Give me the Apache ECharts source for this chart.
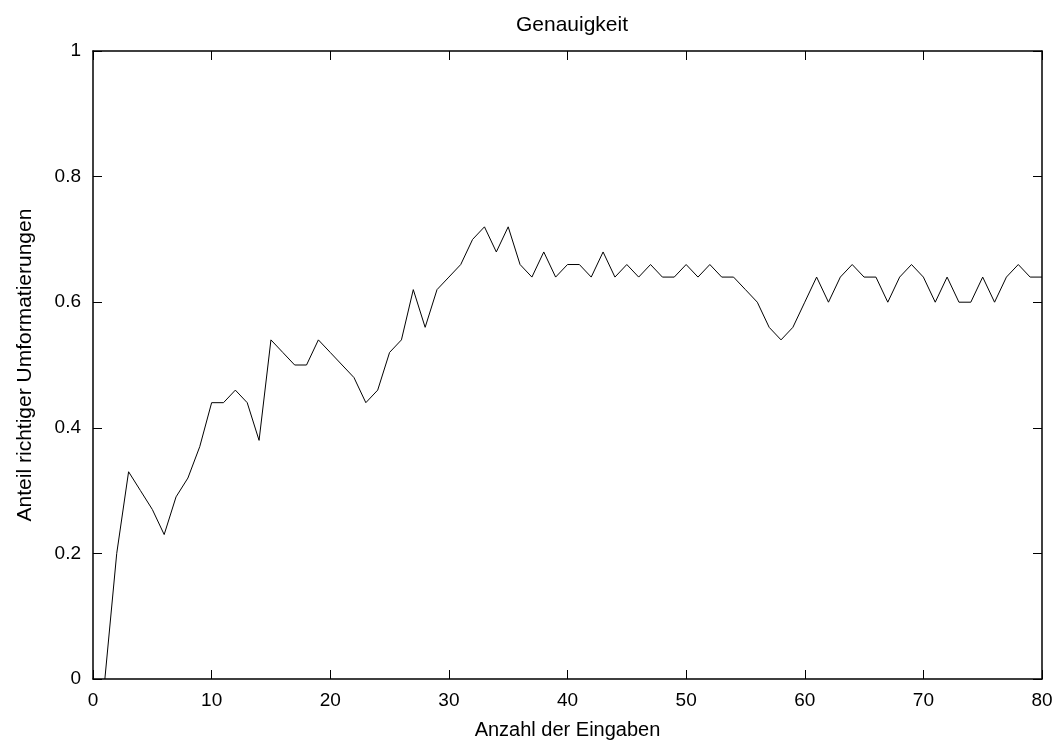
<!DOCTYPE html>
<html>
<head>
<meta charset="utf-8">
<script src="https://cdn.jsdelivr.net/npm/echarts@6/dist/echarts.min.js"></script>
<style>
  html, body { margin: 0; padding: 0; background: #fff; }
  #chart { width: 1058px; height: 745px; }
</style>
</head>
<body>
<div id="chart"></div>
<script>
  // Anzahl der Eingaben
  var eingaben = [];
  for (var i = 1; i <= 80; i++) eingaben.push(i);

  // Anteil richtiger Umformatierungen
  var genauigkeit = [
    0.00, 0.20, 0.33, 0.30, 0.27, 0.23, 0.29, 0.32, 0.37, 0.44,
    0.44, 0.46, 0.44, 0.38, 0.54, 0.52, 0.50, 0.50, 0.54, 0.52,
    0.50, 0.48, 0.44, 0.46, 0.52, 0.54, 0.62, 0.56, 0.62, 0.64,
    0.66, 0.70, 0.72, 0.68, 0.72, 0.66, 0.64, 0.68, 0.64, 0.66,
    0.66, 0.64, 0.68, 0.64, 0.66, 0.64, 0.66, 0.64, 0.64, 0.66,
    0.64, 0.66, 0.64, 0.64, 0.62, 0.60, 0.56, 0.54, 0.56, 0.60,
    0.64, 0.60, 0.64, 0.66, 0.64, 0.64, 0.60, 0.64, 0.66, 0.64,
    0.60, 0.64, 0.60, 0.60, 0.64, 0.60, 0.64, 0.66, 0.64, 0.64
  ];

  var xTicks = [0, 10, 20, 30, 40, 50, 60, 70, 80];
  var yTicks = [0, 0.2, 0.4, 0.6, 0.8, 1];

  var fontFam = '"Liberation Sans", Arial, sans-serif';
  var lineCol = '#000';

  var punkte = eingaben.map(function (x, i) { return [x, genauigkeit[i]]; });

  var chart = echarts.init(document.getElementById('chart'));

  // gemeinsame Achsenoptik (gnuplot-artig: Ticks nach innen, Rahmen)
  function achse(extra) {
    return Object.assign({
      type: 'value',
      axisLine: {show: true, onZero: false, lineStyle: {color: lineCol, width: 1.5}},
      axisTick: {show: true, inside: true, length: 9, lineStyle: {color: lineCol, width: 1}},
      splitLine: {show: false},
      axisLabel: {show: false}
    }, extra);
  }

  chart.setOption({
    backgroundColor: '#fff',
    animation: false,
    title: {
      text: 'Genauigkeit',
      left: 567,
      top: 10,
      textAlign: 'center',
      textStyle: {fontFamily: fontFam, fontSize: 21, fontWeight: 'normal', color: '#000'}
    },
    grid: {left: 93, right: 16, top: 51, bottom: 64},
    xAxis: [
      achse({
        min: xTicks[0], max: xTicks[xTicks.length - 1], interval: 10,
        position: 'bottom',
        name: 'Anzahl der Eingaben',
        nameLocation: 'middle',
        nameGap: 41,
        nameTextStyle: {fontFamily: fontFam, fontSize: 20, color: '#000', verticalAlign: 'top'},
        axisLabel: {show: true, margin: 12, fontFamily: fontFam, fontSize: 19, color: '#000'}
      }),
      achse({min: xTicks[0], max: xTicks[xTicks.length - 1], interval: 10, position: 'top'})
    ],
    yAxis: [
      achse({
        min: yTicks[0], max: yTicks[yTicks.length - 1], interval: 0.2,
        position: 'left',
        name: 'Anteil richtiger Umformatierungen',
        nameLocation: 'middle',
        nameGap: 57,
        nameTextStyle: {fontFamily: fontFam, fontSize: 21, color: '#000'},
        axisLabel: {
          show: true, margin: 12, fontFamily: fontFam, fontSize: 19, color: '#000',
          formatter: function (v) { return String(Math.round(v * 10) / 10); }
        }
      }),
      achse({min: yTicks[0], max: yTicks[yTicks.length - 1], interval: 0.2, position: 'right'})
    ],
    series: [{
      type: 'line',
      data: punkte,
      showSymbol: false,
      symbol: 'none',
      lineStyle: {color: lineCol, width: 1},
      silent: true
    }]
  });
</script>
</body>
</html>
